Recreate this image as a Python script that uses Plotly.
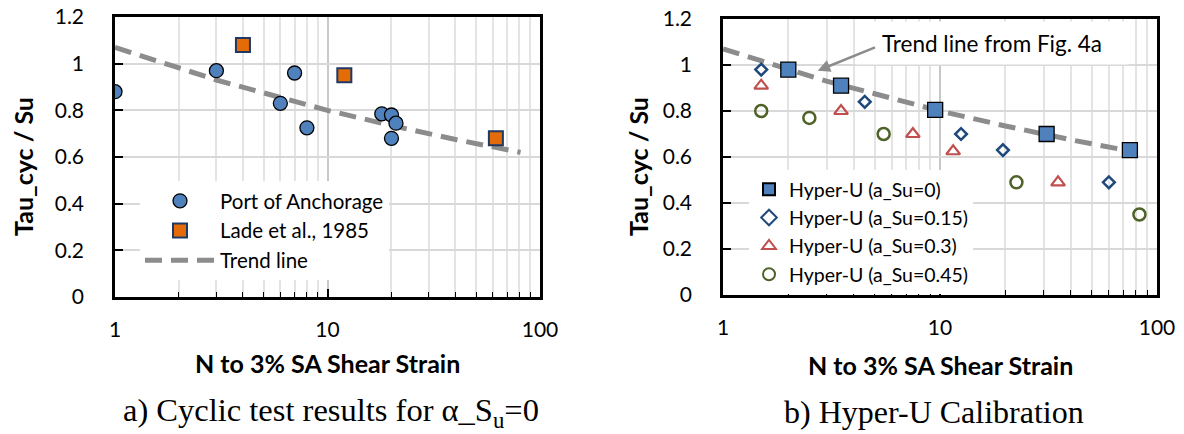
import numpy as np
import plotly.graph_objects as go

# ---------------- data: panel a ----------------
poa_n = [1, 3, 6, 7, 8, 18, 20, 21, 20]
poa_ratio = [0.88, 0.97, 0.83, 0.96, 0.725, 0.785, 0.78, 0.745, 0.68]
lade_n = [4, 12, 62]
lade_ratio = [1.08, 0.95, 0.68]
trend_n = [1, 2, 3, 5, 10, 20, 40, 81]
trend_ratio = [1.07, 0.98, 0.93, 0.875, 0.80, 0.735, 0.675, 0.62]

# ---------------- data: panel b ----------------
hu0_n = [2, 3.5, 9.5, 31, 75]
hu0_ratio = [0.98, 0.91, 0.805, 0.70, 0.63]
hu15_n = [1.5, 4.5, 12.5, 19.5, 60]
hu15_ratio = [0.98, 0.84, 0.70, 0.63, 0.49]
hu30_n = [1.5, 3.5, 7.5, 11.5, 35]
hu30_ratio = [0.91, 0.80, 0.70, 0.625, 0.49]
hu45_n = [1.5, 2.5, 5.5, 22.5, 83]
hu45_ratio = [0.80, 0.77, 0.70, 0.49, 0.35]

x_ticks = [1, 10, 100]
y_ticks = [0, 0.2, 0.4, 0.6, 0.8, 1.0, 1.2]

# the page body has an 8 px margin; size the figure so it fills the window
OFF = 8
W, H = 1184 - OFF, 434 - OFF
FONT = "Lato, sans-serif"
def fx(p):
    return (p - OFF) / W
def fy(p):
    return 1 - (p - OFF) / H

fig = go.Figure()

trend_style = dict(color="#8C8C8C", width=5, dash="17px,9px")

# panel a
fig.add_trace(go.Scatter(x=trend_n, y=trend_ratio, mode="lines", name="Trend line",
                         line=trend_style, xaxis="x", yaxis="y", legend="legend", legendrank=3))
fig.add_trace(go.Scatter(x=poa_n, y=poa_ratio, mode="markers", name="Port of Anchorage",
                         marker=dict(symbol="circle", size=14, color="#4F81BD",
                                     line=dict(color="#000000", width=1.3)),
                         xaxis="x", yaxis="y", legend="legend", legendrank=1))
fig.add_trace(go.Scatter(x=lade_n, y=lade_ratio, mode="markers", name="Lade et al., 1985",
                         marker=dict(symbol="square", size=14, color="#E36C09",
                                     line=dict(color="#1F3864", width=2)),
                         xaxis="x", yaxis="y", legend="legend", legendrank=2))

# panel b
fig.add_trace(go.Scatter(x=trend_n, y=trend_ratio, mode="lines", showlegend=False,
                         line=trend_style, xaxis="x2", yaxis="y2"))
fig.add_trace(go.Scatter(x=hu0_n, y=hu0_ratio, mode="markers", name="Hyper-U (a_Su=0)",
                         marker=dict(symbol="square", size=15, color="#4F81BD",
                                     line=dict(color="#000000", width=1.3)),
                         xaxis="x2", yaxis="y2", legend="legend2"))
fig.add_trace(go.Scatter(x=hu15_n, y=hu15_ratio, mode="markers", name="Hyper-U (a_Su=0.15)",
                         marker=dict(symbol="diamond-open", size=9, color="#1F497D",
                                     line=dict(color="#1F497D", width=2.5)),
                         xaxis="x2", yaxis="y2", legend="legend2"))
fig.add_trace(go.Scatter(x=hu30_n, y=hu30_ratio, mode="markers", name="Hyper-U (a_Su=0.3)",
                         marker=dict(symbol="triangle-up-open", size=12, color="#C0504D",
                                     line=dict(color="#C0504D", width=2.2)),
                         xaxis="x2", yaxis="y2", legend="legend2"))
fig.add_trace(go.Scatter(x=hu45_n, y=hu45_ratio, mode="markers", name="Hyper-U (a_Su=0.45)",
                         marker=dict(symbol="circle-open", size=12, color="#4F6228",
                                     line=dict(color="#4F6228", width=2.5)),
                         xaxis="x2", yaxis="y2", legend="legend2"))

TICKFONT = dict(family=FONT, size=21, color="#000000")

def xaxis_cfg(d0, d1, anchor):
    return dict(domain=[fx(d0), fx(d1)], anchor=anchor, type="log", automargin=False,
                range=[np.log10(x_ticks[0]), np.log10(x_ticks[-1])],
                tickvals=x_ticks, ticktext=[str(v) for v in x_ticks],
                ticks="inside", ticklen=8, tickwidth=1.5, tickcolor="#000000",
                showline=True, linecolor="#000000", linewidth=2.5, mirror=True,
                showgrid=True, gridcolor="#C8C8C8", gridwidth=1.5,
                minor=dict(dtick="D1", ticks="inside", ticklen=5, tickwidth=1.2,
                           tickcolor="#000000", showgrid=True, gridcolor="#E4E4E4",
                           gridwidth=1.5),
                tickfont=TICKFONT, ticklabelstandoff=12, ticklabeloverflow="allow",
                fixedrange=True)

def yaxis_cfg(top, bottom, anchor):
    return dict(domain=[fy(bottom), fy(top)], anchor=anchor, range=[0, 1.2], automargin=False,
                tickvals=y_ticks, ticktext=["0", "0.2", "0.4", "0.6", "0.8", "1", "1.2"],
                ticks="inside", ticklen=8, tickwidth=1.5, tickcolor="#000000",
                showline=True, linecolor="#000000", linewidth=2.5, mirror=True,
                showgrid=True, gridcolor="#D9D9D9", gridwidth=1.5, zeroline=False,
                tickfont=TICKFONT, ticklabelstandoff=24, ticklabeloverflow="allow",
                fixedrange=True)

TITLEFONT = dict(family=FONT, size=25, color="#000000")
annotations = [
    # axis titles
    dict(text="<b>Tau_cyc / Su</b>", x=fx(23), y=fy(167), xref="paper", yref="paper",
         xanchor="center", yanchor="middle", textangle=-90, showarrow=False, font=TITLEFONT),
    dict(text="<b>Tau_cyc / Su</b>", x=fx(638), y=fy(167), xref="paper", yref="paper",
         xanchor="center", yanchor="middle", textangle=-90, showarrow=False, font=TITLEFONT),
    dict(text="<b>N to 3% SA Shear Strain</b>", x=fx(327), y=fy(363), xref="paper", yref="paper",
         xanchor="center", yanchor="middle", showarrow=False, font=TITLEFONT),
    dict(text="<b>N to 3% SA Shear Strain</b>", x=fx(940), y=fy(365), xref="paper", yref="paper",
         xanchor="center", yanchor="middle", showarrow=False, font=TITLEFONT),
    # captions
    dict(text="a) Cyclic test results for α_S<sub>u</sub>=0", x=fx(331), y=fy(412),
         xref="paper", yref="paper", xanchor="center", yanchor="middle", showarrow=False,
         font=dict(family="Liberation Serif", size=32.5, color="#000000")),
    dict(text="b) Hyper-U Calibration", x=fx(934), y=fy(412),
         xref="paper", yref="paper", xanchor="center", yanchor="middle", showarrow=False,
         font=dict(family="Liberation Serif", size=32, color="#000000")),
    # trend line label in panel b
    dict(text="Trend line from Fig. 4a", x=np.log10(17.4), y=1.1926, xref="x2", yref="y2",
         xanchor="center", yanchor="top", width=270, height=40, valign="middle",
         bgcolor="#FFFFFF", showarrow=False,
         font=dict(family=FONT, size=22.5, color="#000000")),
    dict(text="", x=np.log10(2.73), y=0.975, xref="x2", yref="y2",
         ax=np.log10(5.1), ay=1.079, axref="x2", ayref="y2",
         showarrow=True, arrowhead=2, arrowsize=1, arrowwidth=2.5, arrowcolor="#8C8C8C"),
]

fig.update_layout(
    width=W, height=H, margin=dict(l=0, r=0, t=0, b=0, autoexpand=False),
    paper_bgcolor="#FFFFFF", plot_bgcolor="#FFFFFF",
    xaxis=xaxis_cfg(115, 540, "y"),
    yaxis=yaxis_cfg(17, 297, "x"),
    xaxis2=xaxis_cfg(723, 1157, "y2"),
    yaxis2=yaxis_cfg(19, 295, "x2"),
    legend=dict(x=fx(140), y=fy(181), xanchor="left", yanchor="top",
                bgcolor="#FFFFFF", font=dict(family=FONT, size=20.5, color="#000000"),
                itemwidth=70, tracegroupgap=0, traceorder="normal"),
    legend2=dict(x=fx(749), y=fy(170), xanchor="left", yanchor="top",
                 bgcolor="#FFFFFF", font=dict(family=FONT, size=19.5, color="#000000"),
                 itemwidth=30, itemsizing="constant", tracegroupgap=0),
    annotations=annotations,
    showlegend=True,
)

fig.write_html("out.html")
